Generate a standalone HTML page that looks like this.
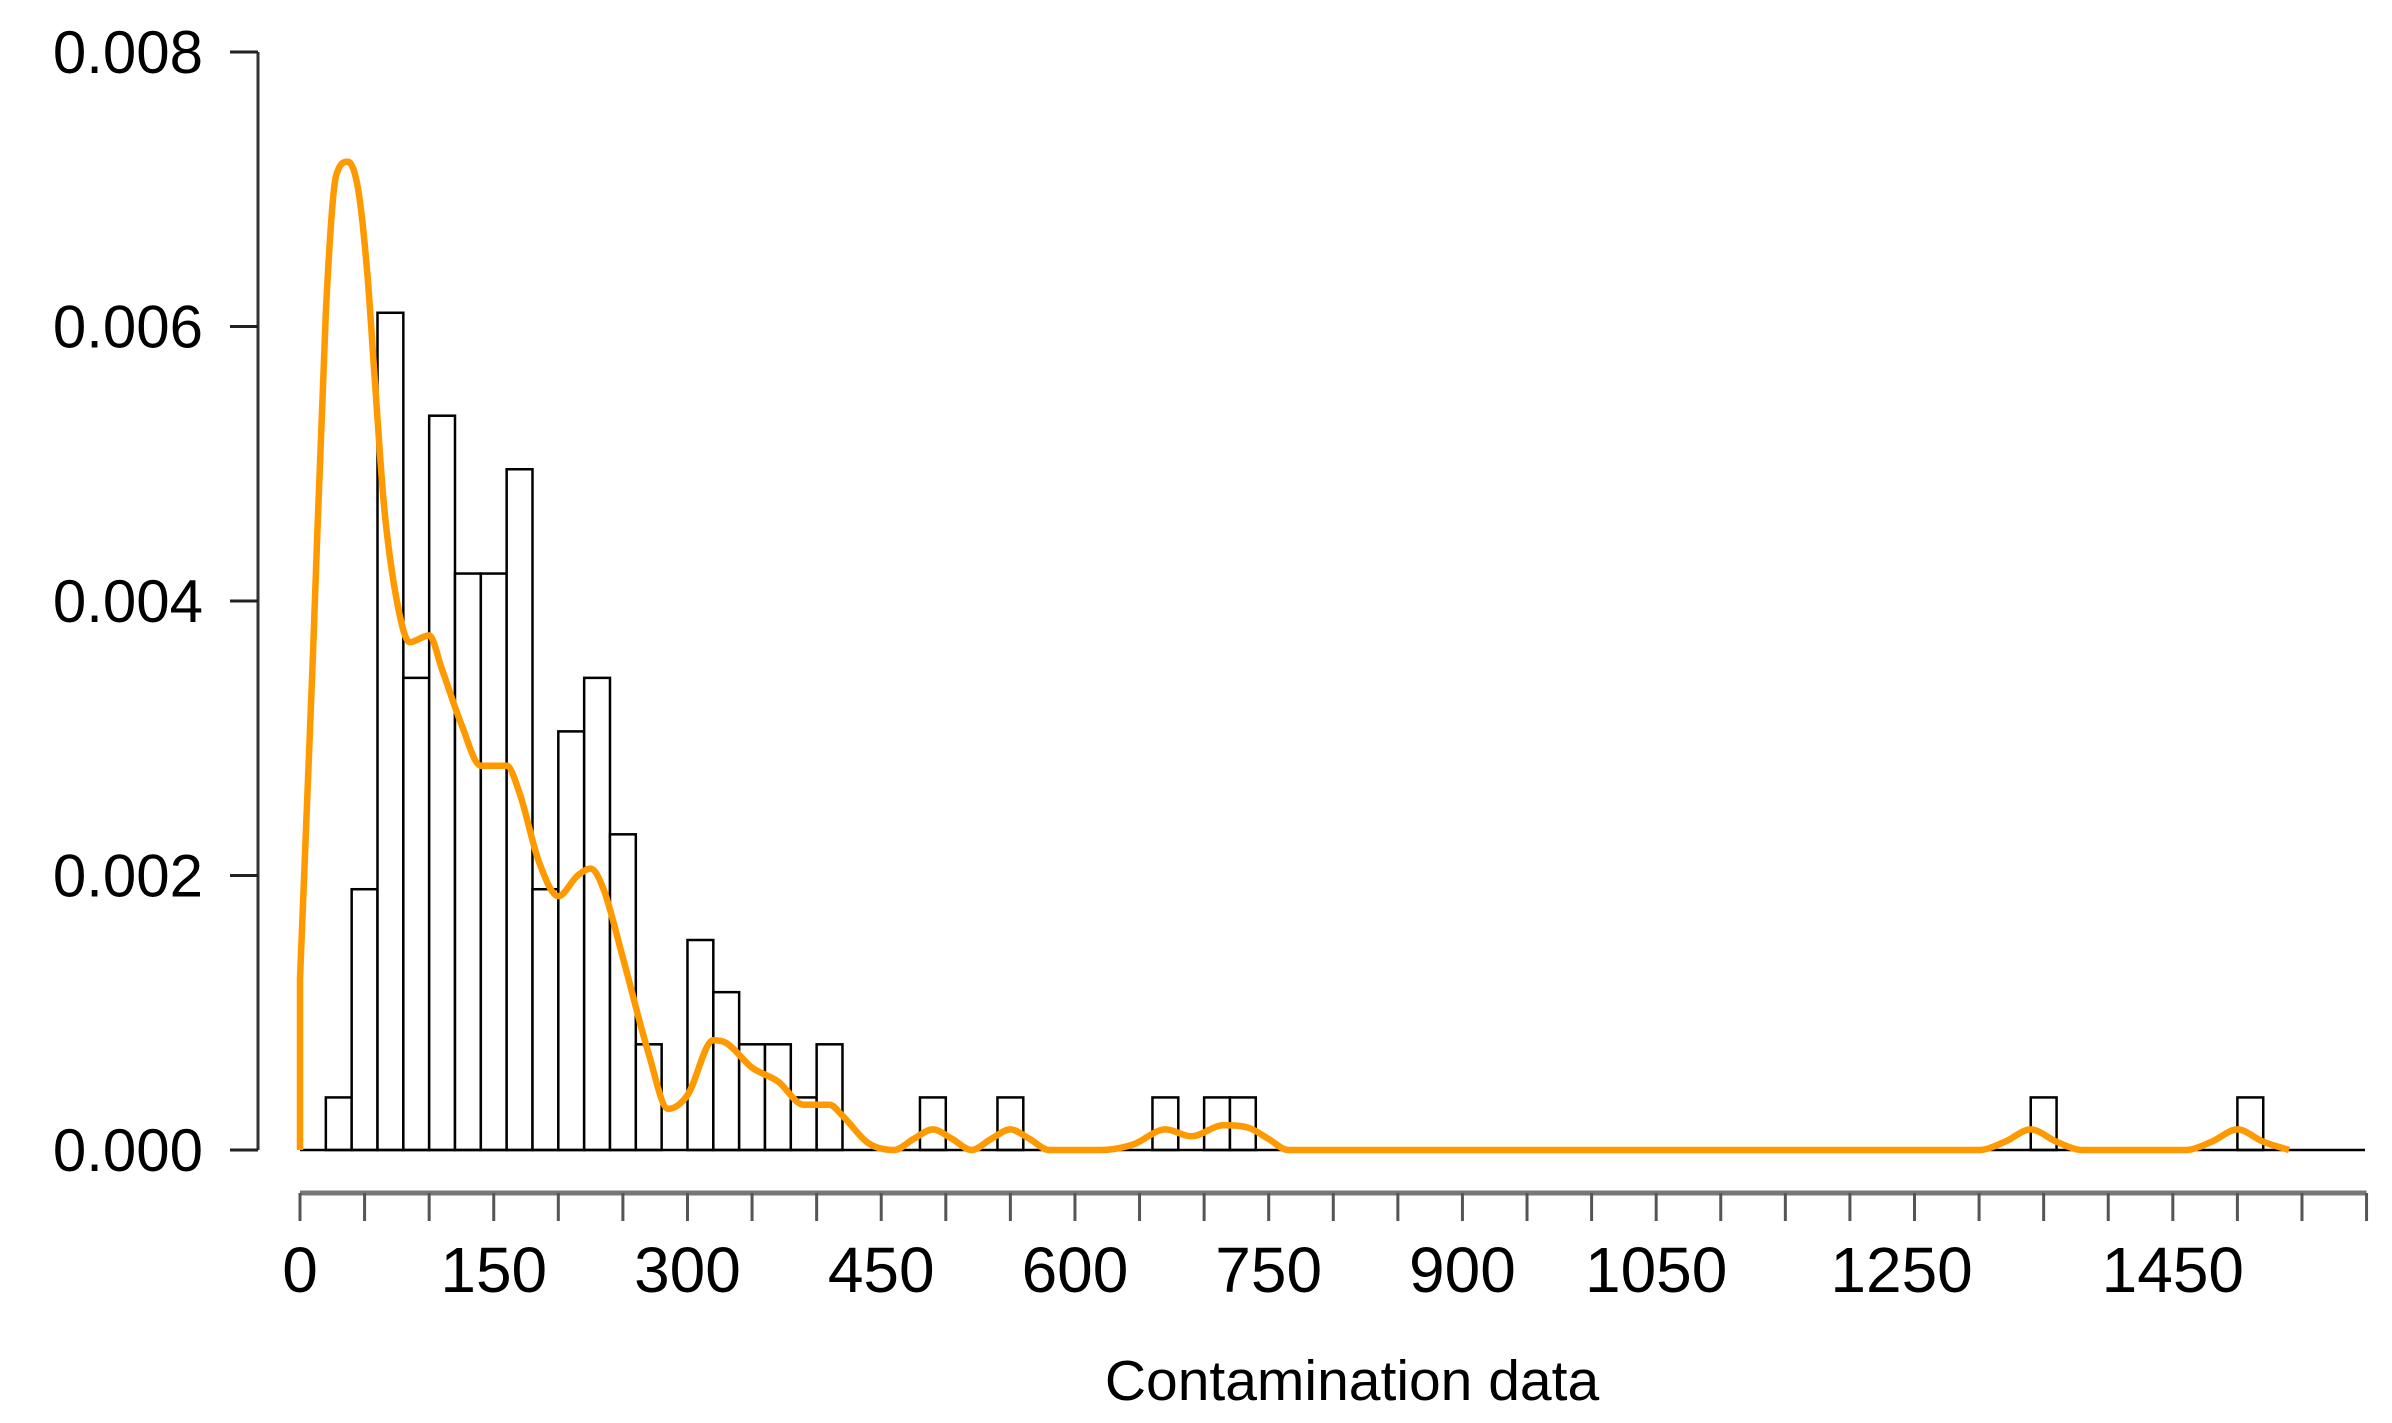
<!DOCTYPE html>
<html><head><meta charset="utf-8"><style>
html,body{margin:0;padding:0;background:#fff;}
svg{display:block;font-family:"Liberation Sans",Arial,sans-serif;}
</style></head><body>
<svg id="chart" width="2392" height="1423" viewBox="0 0 2392 1423" xmlns="http://www.w3.org/2000/svg">
<g id="bars"></g>
<line x1="300" y1="1150" x2="2365" y2="1150" stroke="#000" stroke-width="2.5"/>
<path id="kde" fill="none" stroke="#FF9900" stroke-width="6.5" stroke-linejoin="round"/>
<g id="yaxis"></g>
<g id="xaxis"></g>
<text x="1352" y="1400" font-size="57" text-anchor="middle">Contamination data</text>
</svg>
<script>
const binStarts=[20,40,60,80,100,120,140,160,180,200,220,240,260,280,300,320,340,360,380,400,480,540,660,700,720,1340,1500];
const binDensities=[0.000383,0.0019,0.0061,0.00344,0.00535,0.0042,0.0042,0.00496,0.0019,0.00305,0.00344,0.0023,0.00077,0,0.00153,0.00115,0.00077,0.00077,0.000383,0.00077,0.000383,0.000383,0.000383,0.000383,0.000383,0.000383,0.000383];
const binWidth=20;
const kdeX=[0,10,20,28,37,45,52,58,65,75,85,100,110,125,140,160,170,185,200,215,225,235,250,270,285,300,320,330,350,370,390,410,420,440,460,475,490,505,520,535,550,565,580,620,645,670,690,715,735,750,765,1300,1320,1340,1360,1380,1460,1480,1500,1520,1540];
const kdeY=[0.00125,0.0036,0.0061,0.0071,0.0072,0.007,0.0064,0.0056,0.0047,0.0040,0.0037,0.00375,0.0035,0.0031,0.0028,0.0028,0.0026,0.0021,0.00185,0.002,0.00205,0.0019,0.0014,0.0007,0.0003,0.0004,0.0008,0.00078,0.0006,0.0005,0.00033,0.00033,0.00025,0.00005,0,0.00008,0.00015,0.00008,0,0.00008,0.00015,0.00008,0,0,0.00004,0.00015,0.0001,0.00018,0.00016,0.00008,0,0,0.00006,0.00015,0.00006,0,0,0.00006,0.00015,0.00006,0];
const yTicks=[0,0.002,0.004,0.006,0.008];
const yTickLabels=["0.000","0.002","0.004","0.006","0.008"];
const xLabelValues=[0,150,300,450,600,750,900,1050,1250,1450];
const xLabelPos=[0,150,300,450,600,750,900,1050,1240,1450];
const xTickStep=50, xTickMax=1600;
const NS="http://www.w3.org/2000/svg";
const xs=v=>300+v*1.2916;
const ys=d=>1150-d*137250;
function mk(tag,attrs,parent){const e=document.createElementNS(NS,tag);for(const k in attrs)e.setAttribute(k,attrs[k]);parent.appendChild(e);return e;}
const bars=document.getElementById('bars');
binStarts.forEach((b,i)=>{
 const r=mk('rect',{x:xs(b),y:ys(binDensities[i]),width:xs(b+binWidth)-xs(b),height:1150-ys(binDensities[i]),fill:'#fff',stroke:'#000','stroke-width':2.5},bars);
 
 
});
const n=kdeX.length, dk=[], m=new Array(n);
for(let i=0;i<n-1;i++) dk.push((kdeY[i+1]-kdeY[i])/(kdeX[i+1]-kdeX[i]));
m[0]=dk[0]; m[n-1]=dk[n-2];
for(let i=1;i<n-1;i++){ m[i]=(dk[i-1]*dk[i]<=0)?0:(dk[i-1]+dk[i])/2; }
for(let i=0;i<n-1;i++){
 if(dk[i]===0){m[i]=0;m[i+1]=0;continue;}
 const a=m[i]/dk[i], b=m[i+1]/dk[i], s=a*a+b*b;
 if(s>9){const t=3/Math.sqrt(s);m[i]=t*a*dk[i];m[i+1]=t*b*dk[i];}
}
let d=`M${xs(0)},${ys(0)} L${xs(kdeX[0])},${ys(kdeY[0])}`;
for(let i=0;i<n-1;i++){
 const h=kdeX[i+1]-kdeX[i];
 const c1x=kdeX[i]+h/3, c1y=kdeY[i]+m[i]*h/3;
 const c2x=kdeX[i+1]-h/3, c2y=kdeY[i+1]-m[i+1]*h/3;
 d+=` C${xs(c1x)},${ys(c1y)} ${xs(c2x)},${ys(c2y)} ${xs(kdeX[i+1])},${ys(kdeY[i+1])}`;
}
document.getElementById('kde').setAttribute('d',d);
const ya=document.getElementById('yaxis');
mk('line',{x1:258,y1:ys(0.008),x2:258,y2:1150,stroke:'#333','stroke-width':3},ya);
yTicks.forEach((v,i)=>{
 const l=mk('line',{x1:230,y1:ys(v),x2:258,y2:ys(v),stroke:'#222','stroke-width':3},ya);
 
 
 const t=mk('text',{x:203,y:ys(v)+21,'font-size':60,'text-anchor':'end'},ya);
 t.textContent=yTickLabels[i];
 
 
});
const xa=document.getElementById('xaxis');
mk('line',{x1:xs(0),y1:1193,x2:xs(xTickMax),y2:1193,stroke:'#777','stroke-width':5},xa);
for(let v=0;v<=xTickMax;v+=xTickStep){
 const l=mk('line',{x1:xs(v),y1:1193,x2:xs(v),y2:1221,stroke:'#555','stroke-width':3},xa);
 
 
}
xLabelValues.forEach((v,i)=>{
 const t=mk('text',{x:xs(xLabelPos[i]),y:1292,'font-size':64,'text-anchor':'middle'},xa);
 t.textContent=String(v);
 
 
});
</script>
</body></html>
